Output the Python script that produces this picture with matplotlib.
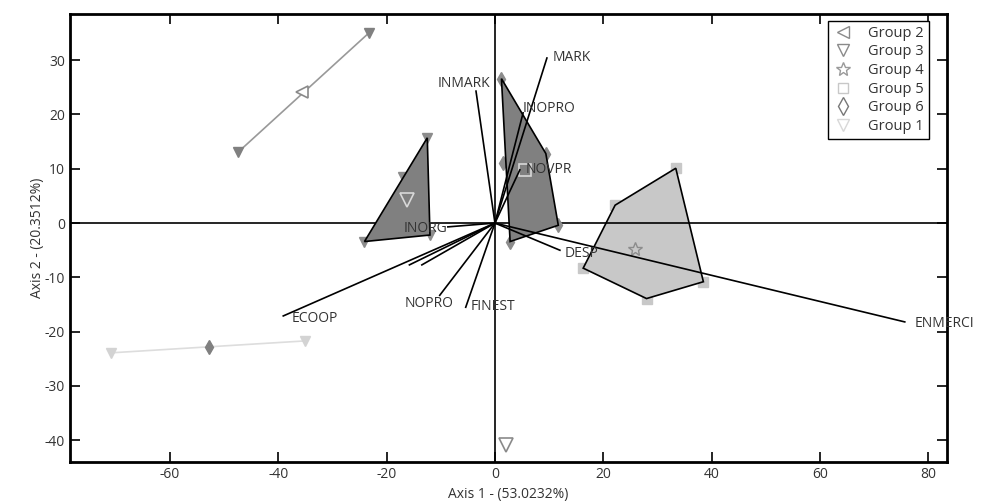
import matplotlib
matplotlib.use('Agg')
import matplotlib.pyplot as plt
from matplotlib.lines import Line2D

plt.rcParams['font.family'] = ['Open Sans', 'DejaVu Sans']
plt.rcParams['font.size'] = 10
plt.rcParams['axes.unicode_minus'] = False

# Group 2: two points joined by a line, centroid in the middle
g2_x = [-47.4, -23.3]
g2_y = [13.1, 35.0]
g2_cx, g2_cy = -35.7, 24.2

# Group 1: light line at the bottom left, diamond centroid
g1_x = [-71.0, -35.1]
g1_y = [-23.9, -21.7]
g1_cx, g1_cy = -52.9, -22.8

# Group 3: dark triangle on the left
g3_hull_x = [-12.5, -12.0, -24.1]
g3_hull_y = [15.7, -2.2, -3.4]
g3_pts_x = [-12.5, -12.0, -24.1, -17.0]
g3_pts_y = [15.7, -2.2, -3.4, 8.5]
g3_cx, g3_cy = -16.3, 4.2
g3_extra_x, g3_extra_y = 2.0, -40.9

# Group 6: dark polygon right of the vertical axis
g6_hull_x = [1.2, 9.4, 11.7, 2.8]
g6_hull_y = [26.6, 12.8, -0.4, -3.4]
g6_pts_x = [1.2, 9.4, 11.7, 2.8, 1.4]
g6_pts_y = [26.6, 12.8, -0.4, -3.4, 11.0]
g6_cx, g6_cy = 5.6, 9.8

# light polygon
g4_hull_x = [33.4, 22.2, 16.3, 28.0, 38.5]
g4_hull_y = [10.1, 3.3, -8.3, -13.9, -10.8]
g4_cx, g4_cy = 25.8, -4.8

# variable vectors
var_names = ['MARK', 'INMARK', 'INOPRO', 'NOVPR', 'INORG', 'DESP',
             'ENMERCI', 'ECOOP', 'NOPRO', 'FINEST', '', '']
var_x = [9.6, -3.5, 5.2, 4.6, -8.7, 12.0, 75.7, -39.1, -10.2, -5.4, -15.8, -13.5]
var_y = [30.4, 24.3, 20.3, 9.8, -0.7, -5.0, -18.2, -17.1, -13.3, -15.5, -7.7, -7.7]
# label offsets in pixels (dx to left edge, dy to middle)
lab_dx = [6, -38, 0, 6, -44, 5, 10, 8, -35, 5, 0, 0]
lab_dy = [0, 8, 4, 0, -2, -3, -2, -3, -8, 1, 0, 0]

groups = ['Group 2', 'Group 3', 'Group 4', 'Group 5', 'Group 6', 'Group 1']
txt = '#333333'

fig = plt.figure(figsize=(9.98, 5.04), dpi=100)
ax = fig.add_axes([0.0701, 0.0833, 0.8788, 0.8889])

# axes through the origin
ax.axhline(0, color='black', lw=1.2, zorder=1.5)
ax.axvline(0, color='black', lw=1.2, zorder=1.5)

# group 2 line
ax.plot(g2_x, g2_y, color='#999999', lw=1.2, zorder=2)
ax.plot(g2_x, g2_y, 'v', color='#808080', ms=7, ls='none', zorder=2.1)
ax.plot(g2_cx, g2_cy, '<', mfc='white', mec='#8a8a8a', ms=9, mew=1.2, zorder=2.2)

# group 1 line
ax.plot(g1_x, g1_y, color='#dddddd', lw=1.2, zorder=2)
ax.plot(g1_x, g1_y, 'v', color='#d3d3d3', ms=7, ls='none', zorder=2.1)
ax.plot(g1_cx, g1_cy, 'd', color='#808080', ms=7, zorder=2.2)

# light polygon
ax.plot(g4_hull_x, g4_hull_y, 's', color='#c8c8c8', ms=7, ls='none', zorder=0.9)
ax.fill(g4_hull_x, g4_hull_y, facecolor='#c8c8c8', edgecolor='none', zorder=1)
ax.fill(g4_hull_x, g4_hull_y, facecolor='none', edgecolor='black', lw=1.2, zorder=2.5)
ax.plot(g4_cx, g4_cy, '*', mfc='none', mec='#8c8c8c', ms=10, mew=1, zorder=2.6)

# dark group 3 polygon
ax.plot(g3_pts_x, g3_pts_y, 'v', color='#8c8c8c', ms=7, ls='none', zorder=1.8)
ax.fill(g3_hull_x, g3_hull_y, facecolor='#808080', edgecolor='black', lw=1.2, zorder=2)
ax.plot(g3_cx, g3_cy, 'v', mfc='none', mec='#d8d8d8', ms=10, mew=1.2, zorder=2.2)
ax.plot(g3_extra_x, g3_extra_y, 'v', mfc='none', mec='#8a8a8a', ms=10, mew=1.2, zorder=2.2)

# dark group 6 polygon
ax.plot(g6_pts_x, g6_pts_y, 'd', color='#8c8c8c', ms=7, ls='none', zorder=1.8)
ax.fill(g6_hull_x, g6_hull_y, facecolor='#808080', edgecolor='black', lw=1.2, zorder=2)
ax.plot(g6_cx, g6_cy, 's', mfc='none', mec='#d8d8d8', ms=8, mew=1.2, zorder=2.2)

# vectors
for name, x, y, dx, dy in zip(var_names, var_x, var_y, lab_dx, lab_dy):
    ax.plot([0, x], [0, y], color='black', lw=1.2, zorder=3)
    if name:
        ax.annotate(name, (x, y), xytext=(dx, dy), textcoords='offset pixels',
                    ha='left', va='center', color=txt, fontsize=10, zorder=4)

ax.set_xlim(-78.5, 83.5)
ax.set_ylim(-44, 38.5)
ax.set_xticks([-60, -40, -20, 0, 20, 40, 60, 80])
ax.set_yticks([-40, -30, -20, -10, 0, 10, 20, 30])
ax.tick_params(direction='in', length=7, width=1.2, top=True, right=True,
               labelcolor=txt, labelsize=10, color='black')
for s in ax.spines.values():
    s.set_linewidth(2)
ax.set_xlabel('Axis 1 - (53.0232%)', color=txt, fontsize=10, labelpad=4)
ax.set_ylabel('Axis 2 - (20.3512%)', color=txt, fontsize=10, labelpad=0)

handles = [
    Line2D([], [], marker='<', ls='none', mfc='none', mec='#8a8a8a', ms=9, mew=1),
    Line2D([], [], marker='v', ls='none', mfc='none', mec='#8a8a8a', ms=9, mew=1),
    Line2D([], [], marker='*', ls='none', mfc='none', mec='#9a9a9a', ms=10, mew=1),
    Line2D([], [], marker='s', ls='none', mfc='none', mec='#c8c8c8', ms=7, mew=1),
    Line2D([], [], marker='d', ls='none', mfc='none', mec='#777777', ms=9, mew=1),
    Line2D([], [], marker='v', ls='none', mfc='none', mec='#d8d8d8', ms=9, mew=1),
]
leg = ax.legend(handles, groups, loc='upper right', bbox_to_anchor=(0.984, 0.995),
                fancybox=False, edgecolor='black', framealpha=1, fontsize=10.5,
                handlelength=1.4, handletextpad=1.0, labelspacing=0.25,
                borderpad=0.35, borderaxespad=0.3, labelcolor=txt)
leg.get_frame().set_linewidth(1)

fig.savefig('out.png', dpi=100)
